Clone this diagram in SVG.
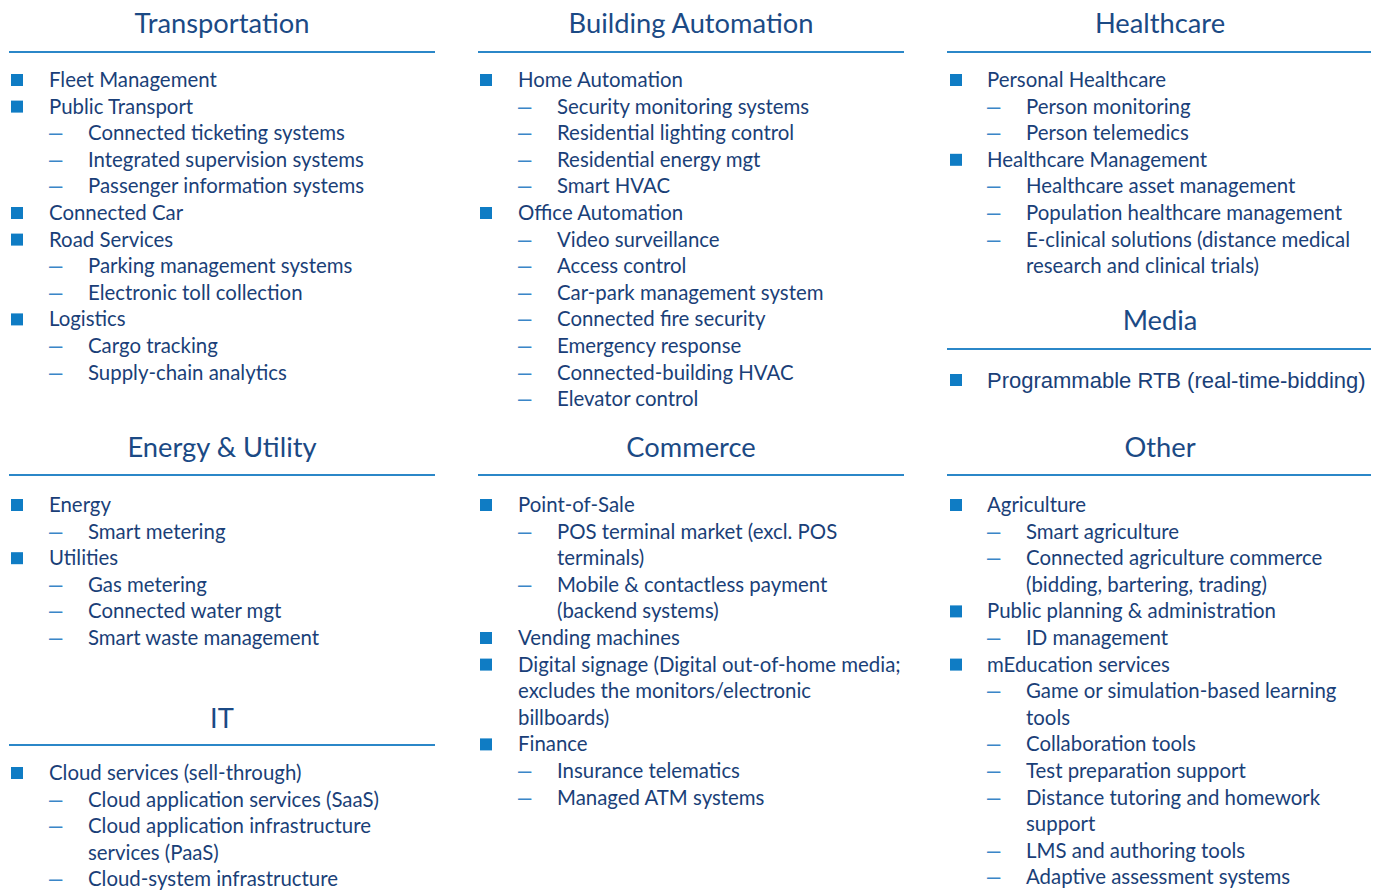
<svg xmlns="http://www.w3.org/2000/svg" width="1383" height="890" viewBox="0 0 1383 890">
<style>
.t{font-family:Lato,"Open Sans",sans-serif;font-size:27.3px;fill:#1b4a85;text-anchor:middle}
.i{font-family:Lato,"Open Sans",sans-serif;font-size:20.4px;fill:#1a3f78}
.d{font-family:"Liberation Sans",Arial,sans-serif;font-size:24px;fill:#3a86c8}
.a{font-family:"Liberation Sans",Arial,sans-serif;font-size:22px;fill:#1a3f78}
.b{fill:#0f7cc4}
.r{stroke:#2b87c8;stroke-width:2}
</style>
<rect width="1383" height="890" fill="#ffffff"/>
<g id="transportation">
<text class="t" x="222" y="33">Transportation</text>
<line class="r" x1="9" y1="52" x2="435" y2="52"/>
<rect class="b" x="11" y="74" width="12" height="12"/><text class="i" x="49" y="87">Fleet Management</text>
<rect class="b" x="11" y="100.6" width="12" height="12"/><text class="i" x="49" y="113.6">Public Transport</text>
<text class="d" x="49" y="140.2">–</text><text class="i" x="88" y="140.2">Connected ticketing systems</text>
<text class="d" x="49" y="166.8">–</text><text class="i" x="88" y="166.8">Integrated supervision systems</text>
<text class="d" x="49" y="193.4">–</text><text class="i" x="88" y="193.4">Passenger information systems</text>
<rect class="b" x="11" y="207" width="12" height="12"/><text class="i" x="49" y="220">Connected Car</text>
<rect class="b" x="11" y="233.6" width="12" height="12"/><text class="i" x="49" y="246.6">Road Services</text>
<text class="d" x="49" y="273.2">–</text><text class="i" x="88" y="273.2">Parking management systems</text>
<text class="d" x="49" y="299.8">–</text><text class="i" x="88" y="299.8">Electronic toll collection</text>
<rect class="b" x="11" y="313.4" width="12" height="12"/><text class="i" x="49" y="326.4">Logistics</text>
<text class="d" x="49" y="353">–</text><text class="i" x="88" y="353">Cargo tracking</text>
<text class="d" x="49" y="379.6">–</text><text class="i" x="88" y="379.6">Supply-chain analytics</text>
</g>
<g id="building-automation">
<text class="t" x="691" y="33">Building Automation</text>
<line class="r" x1="478" y1="52" x2="904" y2="52"/>
<rect class="b" x="480" y="74" width="12" height="12"/><text class="i" x="518" y="87">Home Automation</text>
<text class="d" x="518" y="113.6">–</text><text class="i" x="557" y="113.6">Security monitoring systems</text>
<text class="d" x="518" y="140.2">–</text><text class="i" x="557" y="140.2">Residential lighting control</text>
<text class="d" x="518" y="166.8">–</text><text class="i" x="557" y="166.8">Residential energy mgt</text>
<text class="d" x="518" y="193.4">–</text><text class="i" x="557" y="193.4">Smart HVAC</text>
<rect class="b" x="480" y="207" width="12" height="12"/><text class="i" x="518" y="220">Office Automation</text>
<text class="d" x="518" y="246.6">–</text><text class="i" x="557" y="246.6">Video surveillance</text>
<text class="d" x="518" y="273.2">–</text><text class="i" x="557" y="273.2">Access control</text>
<text class="d" x="518" y="299.8">–</text><text class="i" x="557" y="299.8">Car-park management system</text>
<text class="d" x="518" y="326.4">–</text><text class="i" x="557" y="326.4">Connected fire security</text>
<text class="d" x="518" y="353">–</text><text class="i" x="557" y="353">Emergency response</text>
<text class="d" x="518" y="379.6">–</text><text class="i" x="557" y="379.6">Connected-building HVAC</text>
<text class="d" x="518" y="406.2">–</text><text class="i" x="557" y="406.2">Elevator control</text>
</g>
<g id="healthcare">
<text class="t" x="1160" y="33">Healthcare</text>
<line class="r" x1="947" y1="52" x2="1371" y2="52"/>
<rect class="b" x="950" y="74" width="12" height="12"/><text class="i" x="987" y="87">Personal Healthcare</text>
<text class="d" x="987" y="113.6">–</text><text class="i" x="1026" y="113.6">Person monitoring</text>
<text class="d" x="987" y="140.2">–</text><text class="i" x="1026" y="140.2">Person telemedics</text>
<rect class="b" x="950" y="153.8" width="12" height="12"/><text class="i" x="987" y="166.8">Healthcare Management</text>
<text class="d" x="987" y="193.4">–</text><text class="i" x="1026" y="193.4">Healthcare asset management</text>
<text class="d" x="987" y="220">–</text><text class="i" x="1026" y="220">Population healthcare management</text>
<text class="d" x="987" y="246.6">–</text><text class="i" x="1026" y="246.6">E-clinical solutions (distance medical</text>
<text class="i" x="1026" y="273.2">research and clinical trials)</text>
</g>
<g id="media">
<text class="t" x="1160" y="330">Media</text>
<line class="r" x1="947" y1="349" x2="1371" y2="349"/>
<rect class="b" x="950" y="374" width="12" height="12"/><text class="a" x="987" y="387.5">Programmable RTB (real-time-bidding)</text>
</g>
<g id="energy-utility">
<text class="t" x="222" y="457">Energy &amp; Utility</text>
<line class="r" x1="9" y1="475" x2="435" y2="475"/>
<rect class="b" x="11" y="499" width="12" height="12"/><text class="i" x="49" y="512">Energy</text>
<text class="d" x="49" y="538.6">–</text><text class="i" x="88" y="538.6">Smart metering</text>
<rect class="b" x="11" y="552.2" width="12" height="12"/><text class="i" x="49" y="565.2">Utilities</text>
<text class="d" x="49" y="591.8">–</text><text class="i" x="88" y="591.8">Gas metering</text>
<text class="d" x="49" y="618.4">–</text><text class="i" x="88" y="618.4">Connected water mgt</text>
<text class="d" x="49" y="645">–</text><text class="i" x="88" y="645">Smart waste management</text>
</g>
<g id="it">
<text class="t" x="222" y="728">IT</text>
<line class="r" x1="9" y1="745" x2="435" y2="745"/>
<rect class="b" x="11" y="767" width="12" height="12"/><text class="i" x="49" y="780">Cloud services (sell-through)</text>
<text class="d" x="49" y="806.6">–</text><text class="i" x="88" y="806.6">Cloud application services (SaaS)</text>
<text class="d" x="49" y="833.2">–</text><text class="i" x="88" y="833.2">Cloud application infrastructure</text>
<text class="i" x="88" y="859.8">services (PaaS)</text>
<text class="d" x="49" y="886.4">–</text><text class="i" x="88" y="886.4">Cloud-system infrastructure</text>
</g>
<g id="commerce">
<text class="t" x="691" y="457">Commerce</text>
<line class="r" x1="478" y1="475" x2="904" y2="475"/>
<rect class="b" x="480" y="499" width="12" height="12"/><text class="i" x="518" y="512">Point-of-Sale</text>
<text class="d" x="518" y="538.6">–</text><text class="i" x="557" y="538.6">POS terminal market (excl. POS</text>
<text class="i" x="557" y="565.2">terminals)</text>
<text class="d" x="518" y="591.8">–</text><text class="i" x="557" y="591.8">Mobile &amp; contactless payment</text>
<text class="i" x="557" y="618.4">(backend systems)</text>
<rect class="b" x="480" y="632" width="12" height="12"/><text class="i" x="518" y="645">Vending machines</text>
<rect class="b" x="480" y="658.6" width="12" height="12"/><text class="i" x="518" y="671.6">Digital signage (Digital out-of-home media;</text>
<text class="i" x="518" y="698.2">excludes the monitors/electronic</text>
<text class="i" x="518" y="724.8">billboards)</text>
<rect class="b" x="480" y="738.4" width="12" height="12"/><text class="i" x="518" y="751.4">Finance</text>
<text class="d" x="518" y="778">–</text><text class="i" x="557" y="778">Insurance telematics</text>
<text class="d" x="518" y="804.6">–</text><text class="i" x="557" y="804.6">Managed ATM systems</text>
</g>
<g id="other">
<text class="t" x="1160" y="457">Other</text>
<line class="r" x1="947" y1="475" x2="1371" y2="475"/>
<rect class="b" x="950" y="499" width="12" height="12"/><text class="i" x="987" y="512">Agriculture</text>
<text class="d" x="987" y="538.6">–</text><text class="i" x="1026" y="538.6">Smart agriculture</text>
<text class="d" x="987" y="565.2">–</text><text class="i" x="1026" y="565.2">Connected agriculture commerce</text>
<text class="i" x="1026" y="591.8">(bidding, bartering, trading)</text>
<rect class="b" x="950" y="605.4" width="12" height="12"/><text class="i" x="987" y="618.4">Public planning &amp; administration</text>
<text class="d" x="987" y="645">–</text><text class="i" x="1026" y="645">ID management</text>
<rect class="b" x="950" y="658.6" width="12" height="12"/><text class="i" x="987" y="671.6">mEducation services</text>
<text class="d" x="987" y="698.2">–</text><text class="i" x="1026" y="698.2">Game or simulation-based learning</text>
<text class="i" x="1026" y="724.8">tools</text>
<text class="d" x="987" y="751.4">–</text><text class="i" x="1026" y="751.4">Collaboration tools</text>
<text class="d" x="987" y="778">–</text><text class="i" x="1026" y="778">Test preparation support</text>
<text class="d" x="987" y="804.6">–</text><text class="i" x="1026" y="804.6">Distance tutoring and homework</text>
<text class="i" x="1026" y="831.2">support</text>
<text class="d" x="987" y="857.8">–</text><text class="i" x="1026" y="857.8">LMS and authoring tools</text>
<text class="d" x="987" y="884.4">–</text><text class="i" x="1026" y="884.4">Adaptive assessment systems</text>
</g>
</svg>
